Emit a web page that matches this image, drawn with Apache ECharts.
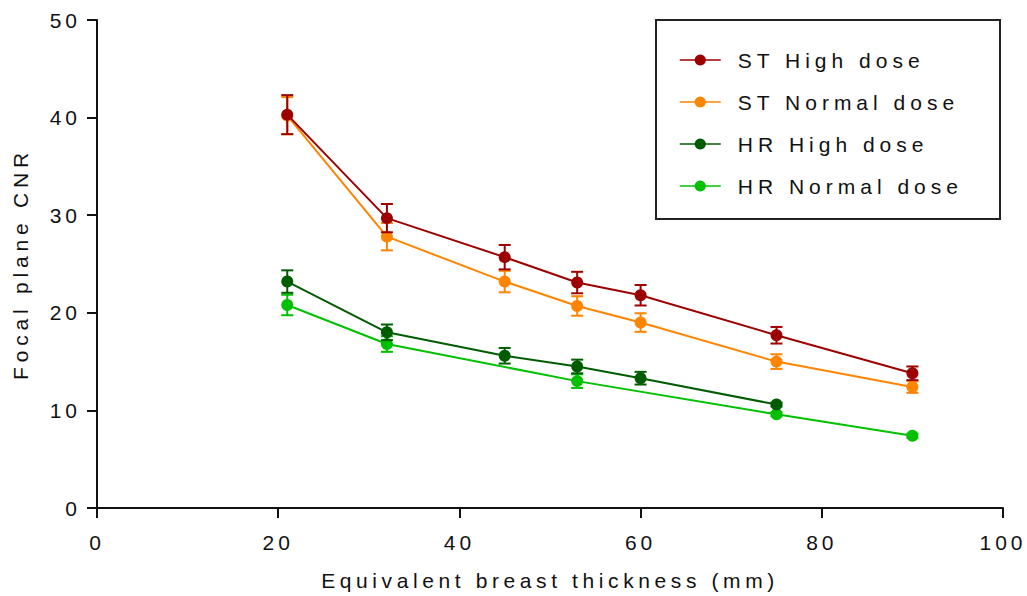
<!DOCTYPE html>
<html>
<head>
<meta charset="utf-8">
<script src="https://cdn.jsdelivr.net/npm/echarts@6/dist/echarts.min.js"></script>
<style>
    html, body { margin: 0; padding: 0; background: #fff; }
    #chart { width: 1027px; height: 596px; }
    #chart text { letter-spacing: 4px; }
</style>
</head>
<body>
<div id="chart"></div>
<script>
// thickness values (mm) for each data set
var xST = [21, 32, 45, 53, 60, 75, 90];
var xHRHigh = [21, 32, 45, 53, 60, 75];
var xHRNormal = [21, 32, 53, 75, 90];

// mean focal plane CNR
var stHigh = [40.3, 29.7, 25.7, 23.1, 21.8, 17.7, 13.8];
var stNormal = [40.2, 27.8, 23.2, 20.7, 19.0, 15.0, 12.4];
var hrHigh = [23.2, 18.0, 15.6, 14.5, 13.3, 10.6];
var hrNormal = [20.8, 16.8, 13.0, 9.6, 7.4];

// error bar half-heights
var stHighErr = [2.0, 1.45, 1.25, 1.1, 1.05, 0.85, 0.7];
var stNormalErr = [1.9, 1.4, 1.1, 1.0, 0.95, 0.75, 0.6];
var hrHighErr = [1.15, 0.8, 0.8, 0.7, 0.65, 0.2];
var hrNormalErr = [1.05, 0.8, 0.7, 0.2, 0.2];

var names = ['ST High dose', 'ST Normal dose', 'HR High dose', 'HR Normal dose'];
var colors = ['#9c0000', '#ff8400', '#005c00', '#00c000'];
var xTicks = [0, 20, 40, 60, 80, 100];
var yTicks = [0, 10, 20, 30, 40, 50];

var xTitle = 'Equivalent breast thickness (mm)';
var yTitle = 'Focal plane CNR';

var sets = [
    { x: xST, y: stHigh, e: stHighErr },
    { x: xST, y: stNormal, e: stNormalErr },
    { x: xHRHigh, y: hrHigh, e: hrHighErr },
    { x: xHRNormal, y: hrNormal, e: hrNormalErr }
];

var font = 'Liberation Sans, Arial, sans-serif';
var series = [];

sets.forEach(function (s, i) {
    var pts = s.x.map(function (v, k) { return [v, s.y[k]]; });
    var errs = s.x.map(function (v, k) { return [v, s.y[k], s.e[k]]; });
    var z = 10 + (sets.length - i) * 2;

    series.push({
        name: names[i] + ' err',
        type: 'custom',
        z: z,
        silent: true,
        renderItem: function (params, api) {
            var x = api.value(0), y = api.value(1), e = api.value(2);
            var top = api.coord([x, y + e]);
            var bot = api.coord([x, y - e]);
            var style = { stroke: colors[i], lineWidth: 2 };
            return {
                type: 'group',
                children: [
                    { type: 'line', shape: { x1: top[0], y1: top[1], x2: bot[0], y2: bot[1] }, style: style },
                    { type: 'line', shape: { x1: top[0] - 6, y1: top[1], x2: top[0] + 6, y2: top[1] }, style: style },
                    { type: 'line', shape: { x1: bot[0] - 6, y1: bot[1], x2: bot[0] + 6, y2: bot[1] }, style: style }
                ]
            };
        },
        data: errs
    });

    series.push({
        name: names[i],
        type: 'line',
        z: z + 1,
        symbol: 'circle',
        symbolSize: 12,
        color: colors[i],
        lineStyle: { color: colors[i], width: 2 },
        itemStyle: { color: colors[i] },
        emphasis: { disabled: true },
        data: pts
    });
});

var chart = echarts.init(document.getElementById('chart'), null, { renderer: 'svg' });
chart.setOption({
    animation: false,
    backgroundColor: '#fff',
    grid: { left: 97, right: 24, top: 20, bottom: 86.5 },
    legend: {
        data: names,
        orient: 'vertical',
        left: 674,
        top: 44,
        itemWidth: 41,
        itemHeight: 14,
        itemGap: 20,
        lineStyle: { width: 1.5 },
        textStyle: { fontFamily: font, fontSize: 21, color: '#111', padding: [0, 0, 0, 12], lineHeight: 22 }
    },
    graphic: [{
        type: 'rect',
        shape: { x: 656, y: 20, width: 344, height: 199 },
        style: { fill: 'none', stroke: '#222', lineWidth: 2 },
        silent: true
    }],
    xAxis: {
        type: 'value',
        min: xTicks[0],
        max: xTicks[xTicks.length - 1],
        interval: 20,
        name: xTitle,
        nameLocation: 'middle',
        nameGap: 62,
        nameTextStyle: { fontFamily: font, fontSize: 21, color: '#111' },
        axisLine: { lineStyle: { color: '#111', width: 2 } },
        axisTick: { length: 10, lineStyle: { width: 2, color: '#111' } },
        axisLabel: { fontFamily: font, fontSize: 21, color: '#111', margin: 24 },
        splitLine: { show: false }
    },
    yAxis: {
        type: 'value',
        min: yTicks[0],
        max: yTicks[yTicks.length - 1],
        interval: 10,
        name: yTitle,
        nameLocation: 'middle',
        nameGap: 66,
        nameTextStyle: { fontFamily: font, fontSize: 21, color: '#111' },
        axisLine: { show: true, lineStyle: { color: '#111', width: 2 } },
        axisTick: { show: true, length: 10, lineStyle: { width: 2, color: '#111' } },
        axisLabel: { fontFamily: font, fontSize: 21, color: '#111', margin: 16 },
        splitLine: { show: false }
    },
    series: series
});

// the original uses wide tracking; widen some labels a bit more
function spaceText() {
    var texts = document.querySelectorAll('#chart text');
    texts.forEach(function (t) {
        var s = t.textContent;
        if (names.indexOf(s) >= 0) t.style.letterSpacing = '5px';
        else if (s === xTitle) t.style.letterSpacing = '4.6px';
        else if (s === yTitle) t.style.letterSpacing = '4.8px';
    });
}
spaceText();
chart.on('finished', spaceText);
</script>
</body>
</html>
